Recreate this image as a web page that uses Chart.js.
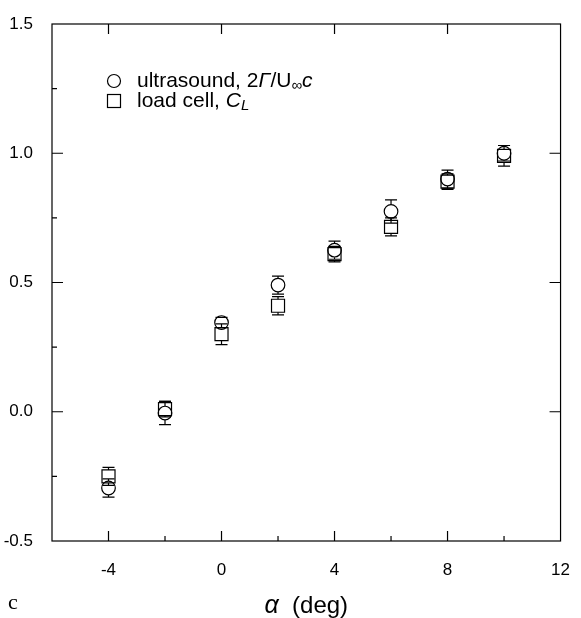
<!DOCTYPE html>
<html>
<head>
<meta charset="utf-8">
<script src="https://cdn.jsdelivr.net/npm/chart.js@4.4.1/dist/chart.umd.min.js"></script>
<style>
html,body{margin:0;padding:0;background:#fff;}
#wrap{width:581px;height:618px;position:relative;}
</style>
</head>
<body>
<div id="wrap"><canvas id="c" width="581" height="618"></canvas></div>
<script>
// ---- data ----
const alphaDeg = [-4, -2, 0, 2, 4, 6, 8, 10];
const ultrasound = [-0.295, -0.005, 0.345, 0.49, 0.625, 0.775, 0.90, 1.00];
const ultrasoundErr = [0.035, 0.045, 0.02, 0.035, 0.035, 0.045, 0.035, 0.03];
const loadCell = [-0.25, 0.01, 0.30, 0.41, 0.61, 0.715, 0.89, 0.99];
const loadCellErr = [0.035, 0.03, 0.04, 0.035, 0.03, 0.035, 0.03, 0.04];
const xTickLabels = ['-4', '0', '4', '8', '12'];
const yTickLabels = ['-0.5', '0.0', '0.5', '1.0', '1.5'];
const xTitle = ['α', '  (deg)'];
const panelLabel = 'c';

const FONT = '"Liberation Sans", Arial, Helvetica, sans-serif';

function pts(xs, ys) { return xs.map((x, i) => ({x: x, y: ys[i]})); }

const errorBars = {
  id: 'errorBars',
  afterDatasetsDraw(chart) {
    const ctx = chart.ctx, xs = chart.scales.x, ys = chart.scales.y;
    const sets = [[ultrasound, ultrasoundErr, 7], [loadCell, loadCellErr, 6.5]];
    ctx.save();
    ctx.strokeStyle = '#000';
    ctx.lineWidth = 1.2;
    sets.forEach(([vals, errs, half]) => {
      vals.forEach((v, i) => {
        const px = xs.getPixelForValue(alphaDeg[i]);
        const py = ys.getPixelForValue(v);
        const top = ys.getPixelForValue(v + errs[i]);
        const bot = ys.getPixelForValue(v - errs[i]);
        ctx.beginPath();
        if (py - half > top) { ctx.moveTo(px, py - half); ctx.lineTo(px, top); }
        if (py + half < bot) { ctx.moveTo(px, py + half); ctx.lineTo(px, bot); }
        ctx.moveTo(px - 6, top); ctx.lineTo(px + 6, top);
        ctx.moveTo(px - 6, bot); ctx.lineTo(px + 6, bot);
        ctx.stroke();
      });
    });
    ctx.restore();
  }
};

const frame = {
  id: 'frame',
  afterDraw(chart) {
    const ctx = chart.ctx, a = chart.chartArea, xs = chart.scales.x, ys = chart.scales.y;
    ctx.save();
    ctx.strokeStyle = '#000';
    ctx.lineWidth = 1.2;
    ctx.strokeRect(a.left, a.top, a.right - a.left, a.bottom - a.top);
    ctx.beginPath();
    xs.ticks.forEach(t => {
      const px = xs.getPixelForValue(t.value);
      if (px <= a.left + 1 || px >= a.right - 1) return;
      const major = Math.abs(t.value % 4) < 1e-6;
      const len = major ? 10 : 5;
      ctx.moveTo(px, a.bottom); ctx.lineTo(px, a.bottom - len);
      if (major) { ctx.moveTo(px, a.top); ctx.lineTo(px, a.top + len); }
    });
    ys.ticks.forEach(t => {
      const py = ys.getPixelForValue(t.value);
      if (py <= a.top + 1 || py >= a.bottom - 1) return;
      const major = Math.abs((t.value * 2) - Math.round(t.value * 2)) < 1e-6;
      const len = major ? 11 : 5;
      ctx.moveTo(a.left, py); ctx.lineTo(a.left + len, py);
      if (major) { ctx.moveTo(a.right, py); ctx.lineTo(a.right - len, py); }
    });
    ctx.stroke();

    // x axis title with italic alpha
    ctx.fillStyle = '#000';
    ctx.textBaseline = 'alphabetic';
    const f1 = 'italic 25px ' + FONT, f2 = '24px ' + FONT;
    ctx.font = f1; const w1 = ctx.measureText(xTitle[0]).width;
    ctx.font = f2; const w2 = ctx.measureText(xTitle[1]).width;
    const cx = (a.left + a.right) / 2;
    let x0 = cx - (w1 + w2) / 2;
    const base = 613;
    ctx.font = f1; ctx.fillText(xTitle[0], x0, base);
    ctx.font = f2; ctx.fillText(xTitle[1], x0 + w1, base);

    // panel label
    ctx.font = '22px "Liberation Serif", "Times New Roman", serif';
    ctx.fillText(panelLabel, 8, 609);

    // legend
    const lx = 114, ly1 = 81, ly2 = 101, tx = 137;
    ctx.lineWidth = 1.2;
    ctx.beginPath(); ctx.arc(lx, ly1, 6.5, 0, Math.PI * 2); ctx.stroke();
    ctx.strokeRect(lx - 6.5, ly2 - 6.5, 13, 13);
    const rich = (segs, x, y) => {
      segs.forEach(s => {
        ctx.font = (s.i ? 'italic ' : '') + (s.sz || 21) + 'px ' + FONT;
        ctx.fillText(s.t, x, y + (s.dy || 0));
        x += ctx.measureText(s.t).width;
      });
    };
    ctx.textBaseline = 'middle';
    rich([{t: 'ultrasound, 2'}, {t: 'Γ', i: true}, {t: '/'}, {t: 'U'},
          {t: '∞', sz: 15, dy: 5}, {t: 'c', i: true}], tx, ly1);
    rich([{t: 'load cell, '}, {t: 'C', i: true}, {t: 'L', i: true, sz: 15, dy: 5}], tx, ly2);
    ctx.restore();
  }
};

new Chart(document.getElementById('c'), {
  type: 'scatter',
  data: {
    datasets: [
      {label: 'ultrasound, 2Γ/U∞c', data: pts(alphaDeg, ultrasound), pointStyle: 'circle',
       pointRadius: 6.8, pointHoverRadius: 6.8, borderColor: '#000', backgroundColor: 'rgba(0,0,0,0)', borderWidth: 1.2},
      {label: 'load cell, C_L', data: pts(alphaDeg, loadCell), pointStyle: 'rect',
       pointRadius: 9.2, pointHoverRadius: 9.2, borderColor: '#000', backgroundColor: 'rgba(0,0,0,0)', borderWidth: 1.2}
    ]
  },
  options: {
    responsive: false,
    animation: false,
    layout: {padding: {top: 24, right: 12, left: 0, bottom: 0}},
    plugins: {legend: {display: false}, tooltip: {enabled: false}},
    scales: {
      x: {
        type: 'linear', min: -6, max: 12,
        grid: {display: false}, border: {display: false},
        ticks: {
          stepSize: 2, padding: 11, color: '#000', maxRotation: 0, autoSkip: false,
          font: {family: FONT, size: 17},
          callback: v => { const s = String(v); return xTickLabels.includes(s) ? s : ''; }
        },
        afterFit: s => { s.height = 77; }
      },
      y: {
        type: 'linear', min: -0.5, max: 1.5,
        grid: {display: false}, border: {display: false},
        ticks: {
          stepSize: 0.25, padding: 11, color: '#000', autoSkip: false,
          font: {family: FONT, size: 17},
          callback: v => { const s = Number(v).toFixed(1); return (yTickLabels.includes(s) && Math.abs(v * 2 - Math.round(v * 2)) < 1e-6) ? s : ''; }
        },
        afterFit: s => { s.width = 52; }
      }
    }
  },
  plugins: [errorBars, frame]
});
</script>
</body>
</html>
